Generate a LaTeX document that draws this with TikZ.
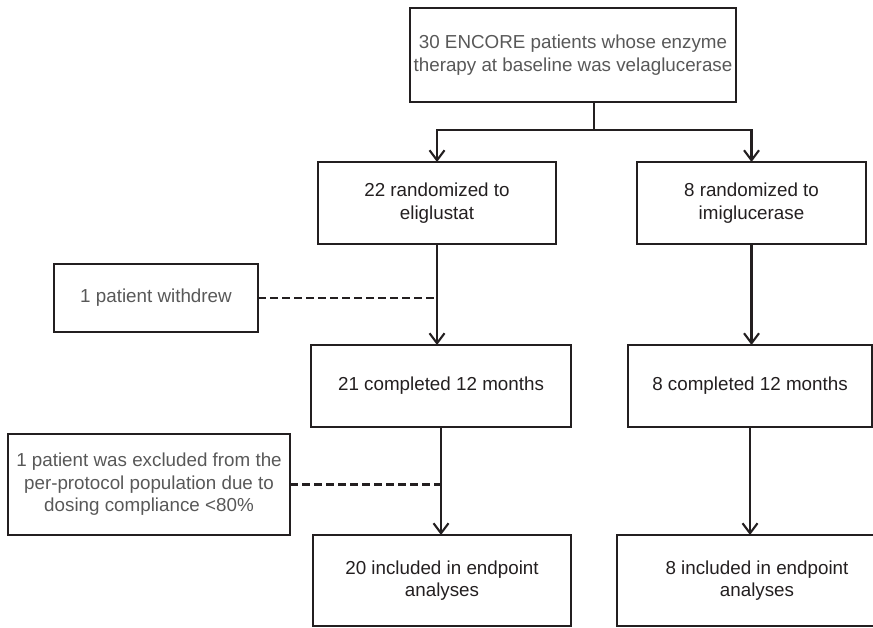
\documentclass[tikz,border=0pt]{standalone}
\usepackage{fontspec}
\setmainfont{Liberation Sans}
\usetikzlibrary{arrows.meta,positioning,calc}
\definecolor{linegray}{RGB}{35,31,32}
\definecolor{textgray}{RGB}{88,88,88}
\tikzset{
  box/.style={draw=linegray, line width=2.1pt, align=center, minimum height=82pt, outer sep=0pt, text=linegray, font=\fontsize{18.8}{22.5}\selectfont, inner sep=4pt},
  sidebox/.style={box, text=textgray},
  link/.style={draw=linegray, line width=2.1pt},
  arrow/.style={link, -{Straight Barb[length=10pt,width=15pt]}},
  dashedlink/.style={link, dash pattern=on 8pt off 4pt}
}

\begin{document}
\begin{tikzpicture}[node distance=60pt]
  \useasboundingbox (0,0) rectangle (873pt,-628pt);
  \node[sidebox, minimum width=320pt, minimum height=94pt] (top) at (573pt,-55pt) {30 ENCORE patients whose enzyme\\therapy at baseline was velaglucerase};
  \node[box, below=of top, xshift=-136pt, minimum width=238pt] (randL) {22 randomized to\\eliglustat};
  \node[box, right=81pt of randL, minimum width=229pt] (randR) {8 randomized to\\imiglucerase};
  \node[sidebox, below left=20pt and 60pt of randL, minimum width=204pt, minimum height=68pt] (withdrew) {1 patient withdrew};
  \node[box, below=101pt of randL, xshift=4pt, minimum width=260pt] (compL) {21 completed 12 months};
  \node[box, below=101pt of randR, xshift=-1.5pt, minimum width=244pt] (compR) {8 completed 12 months};
  \node[sidebox, below left=7pt and 21pt of compL, minimum width=282pt, minimum height=101pt] (excl) {1 patient was excluded from the\\per-protocol population due to\\dosing compliance <80\%};
  \node[box, below=108pt of compL, xshift=1pt, minimum width=258pt, minimum height=91pt] (inclL) {20 included in endpoint\\analyses};
  \node[box, below=108pt of compR, xshift=7pt, minimum width=280pt, minimum height=91pt] (inclR) {8 included in endpoint\\analyses};

  \coordinate (fork) at ($(randL.north)!0.5!(randR.north)+(0,32pt)$);
  \draw[link] (top.south -| fork) -- (fork);
  \draw[arrow] (fork) -| (randL.north);
  \draw[arrow] (fork) -| (randR.north);
  \foreach \a/\b in {randL/compL,compL/inclL,randR/compR,compR/inclR}
    \draw[arrow] (\a.south) -- (\a.south |- \b.north);

  \draw[dashedlink] (withdrew.east) -- (withdrew.east -| randL.south);
  \draw[dashedlink] (excl.east) -- (excl.east -| compL.south);
\end{tikzpicture}
\end{document}
